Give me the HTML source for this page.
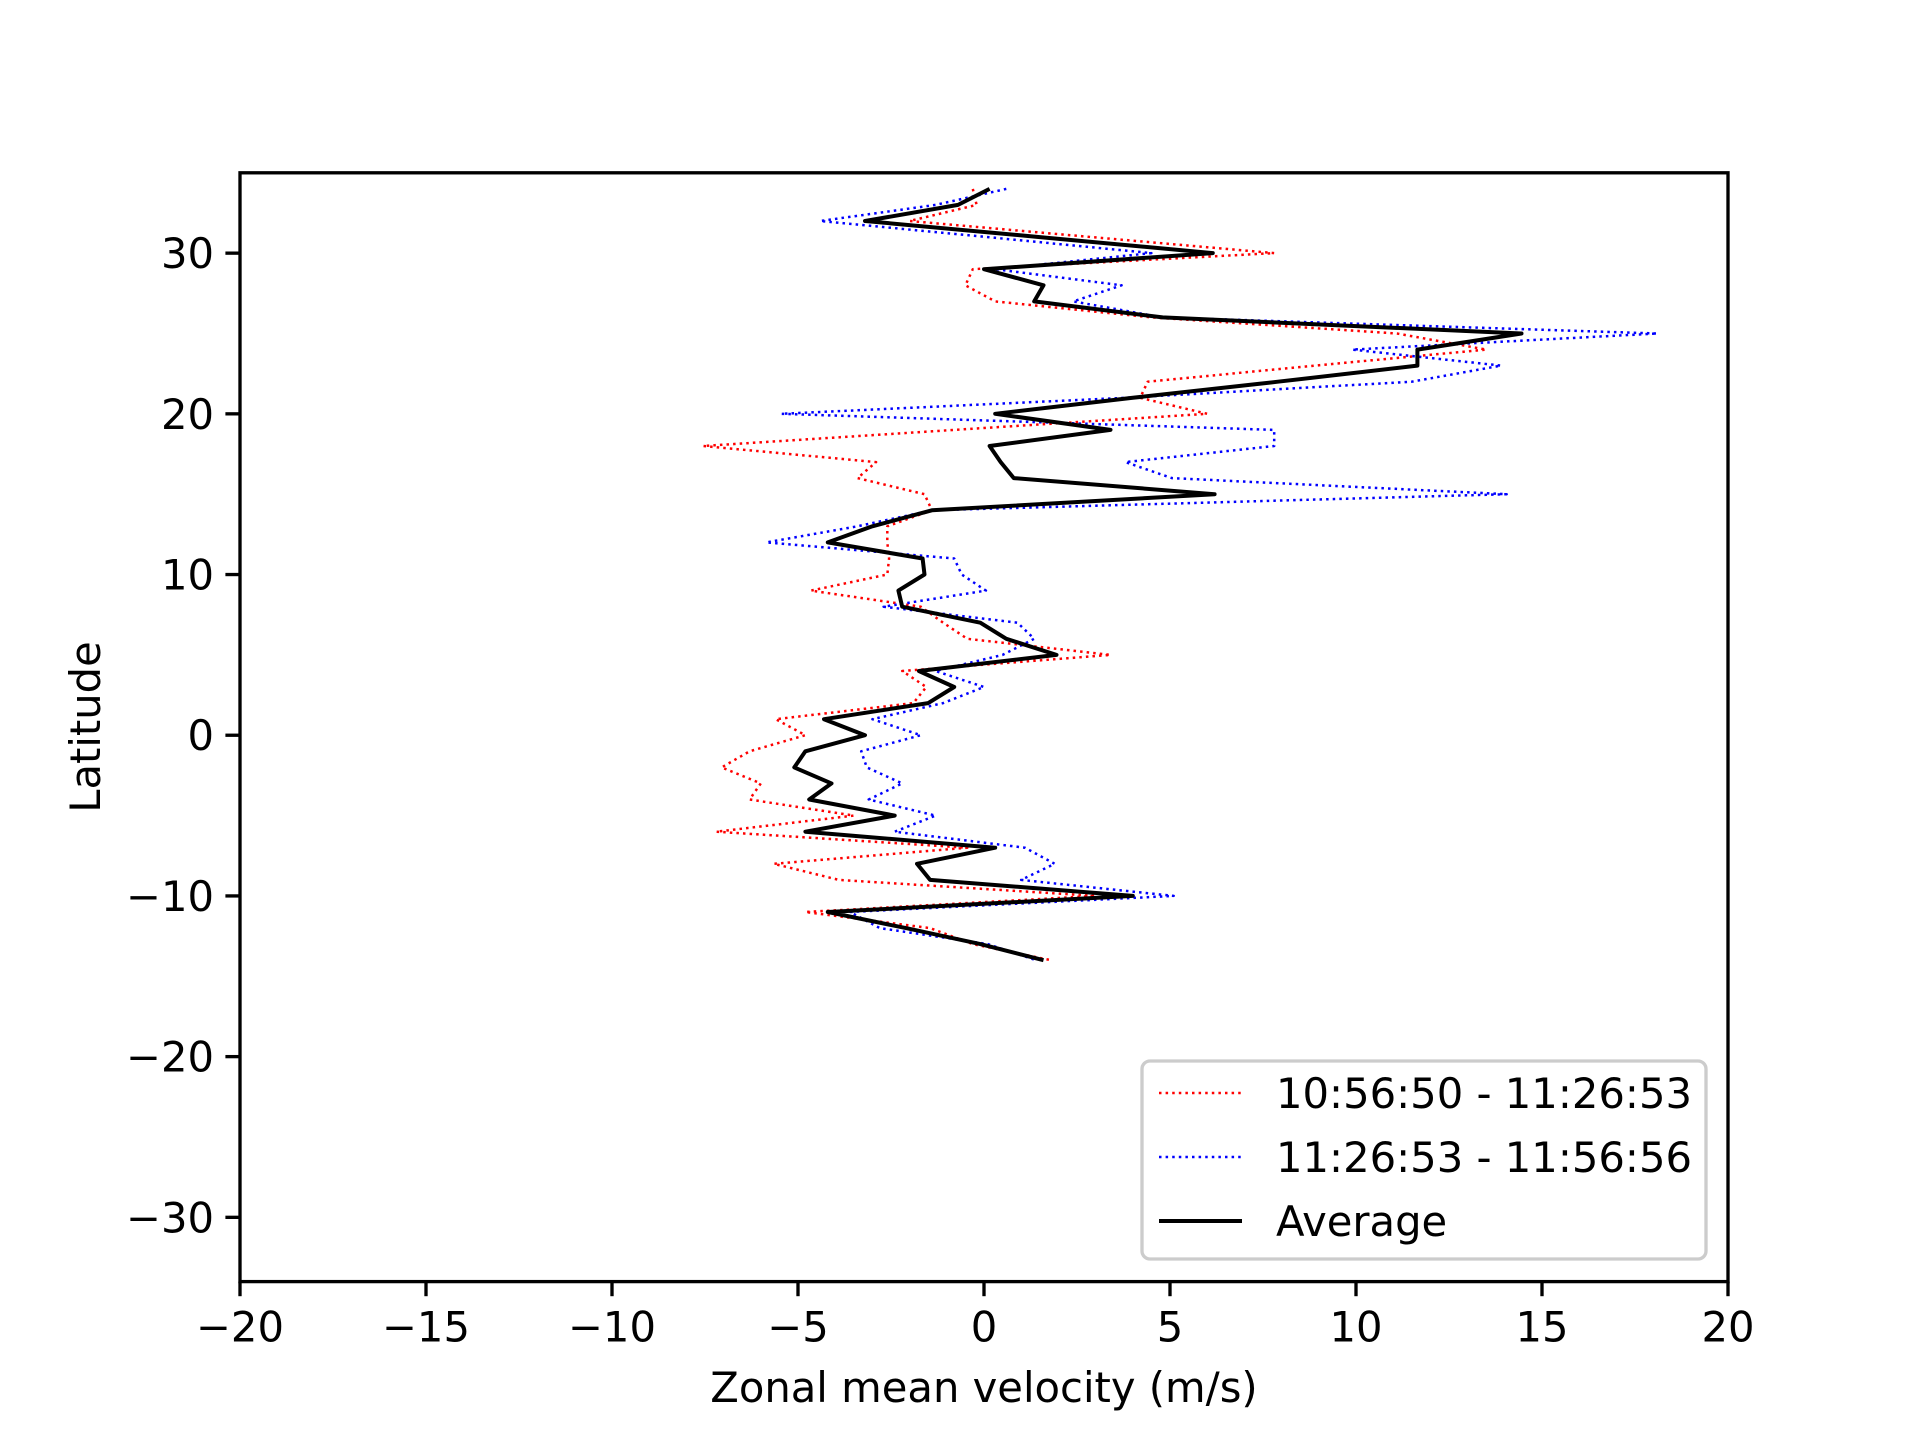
<!DOCTYPE html>
<html><head><meta charset="utf-8"><style>
html,body{margin:0;padding:0;background:#fff;}
svg{display:block;font-family:"DejaVu Sans","Liberation Sans",sans-serif;}
</style></head><body>
<svg id="chart" width="1920" height="1440" viewBox="0 0 1920 1440" xmlns="http://www.w3.org/2000/svg">
<rect width="1920" height="1440" fill="#fff"/>
<g id="plot"></g>
<g id="axes"></g>
<rect x="240" y="172.8" width="1488" height="1108.8" fill="none" stroke="#000" stroke-width="3.33"/>
<text x="984" y="1402" font-size="41.7" text-anchor="middle">Zonal mean velocity (m/s)</text>
<text x="0" y="0" font-size="41.7" text-anchor="middle" transform="translate(100,727) rotate(-90)">Latitude</text>
<g>
<rect x="1142" y="1061" width="564" height="198" rx="8" fill="#fff" fill-opacity="0.8" stroke="#ccc" stroke-width="3.33"/>
<g>
<line x1="1159" y1="1093" x2="1242" y2="1093" stroke="#ff0000" stroke-width="2.5" stroke-dasharray="2.5 4.1"/>
<text x="1276" y="1108" font-size="41.7">10:56:50 - 11:26:53</text></g>
<g>
<line x1="1159" y1="1157" x2="1242" y2="1157" stroke="#0000ff" stroke-width="2.5" stroke-dasharray="2.5 4.1"/>
<text x="1276" y="1172" font-size="41.7">11:26:53 - 11:56:56</text></g>
<g>
<line x1="1159" y1="1221" x2="1242" y2="1221" stroke="#000" stroke-width="4"/>
<text x="1276" y="1236" font-size="41.7">Average</text></g>
</g>
</svg>
<script>
const latitudes = [34,33,32,31,30,29,28,27,26,25,24,23,22,21,20,19,18,17,16,15,14,13,12,11,10,9,8,7,6,5,4,3,2,1,0,-1,-2,-3,-4,-5,-6,-7,-8,-9,-10,-11,-12,-13,-14];
const redValues = [-0.3,-0.2,-2.0,2.9,7.8,-0.3,-0.5,0.3,4.5,11.1,13.5,8.9,4.4,4.2,6.0,-0.8,-7.55,-2.9,-3.4,-1.6,-1.4,-2.6,-2.6,-2.55,-2.6,-4.65,-1.7,-1.1,-0.45,3.4,-2.2,-1.55,-1.9,-5.6,-4.8,-6.3,-7.05,-6.0,-6.3,-3.5,-7.2,-0.45,-5.65,-3.9,3.0,-4.8,-1.45,-0.3,1.8];
const blueValues = [0.6,-1.3,-4.4,0.1,4.5,0.3,3.7,2.4,4.8,18.1,9.9,13.9,11.5,3.8,-5.45,7.8,7.8,3.8,5.05,14.05,-1.4,-3.4,-5.85,-0.8,-0.6,0.05,-2.7,0.9,1.35,0.5,-1.3,0.0,-1.1,-3.0,-1.7,-3.3,-3.15,-2.2,-3.1,-1.3,-2.4,1.1,1.9,1.0,5.1,-3.6,-2.8,0.1,1.4];
const avgValues = [0.15,-0.7,-3.2,1.5,6.15,0.0,1.6,1.35,4.8,14.45,11.65,11.65,7.9,4.0,0.3,3.4,0.15,0.45,0.8,6.2,-1.4,-3.0,-4.2,-1.65,-1.6,-2.3,-2.2,-0.1,0.6,1.95,-1.75,-0.8,-1.5,-4.3,-3.2,-4.8,-5.1,-4.1,-4.7,-2.4,-4.8,0.3,-1.8,-1.45,4.0,-4.2,-2.1,-0.1,1.6];
const xTicks = [-20,-15,-10,-5,0,5,10,15,20];
const yTicks = [-30,-20,-10,0,10,20,30];

const L=240,T=172.8,W=1488,H=1108.8;
const xMin=-20,xMax=20,yMin=-34,yMax=35;
function xs(v){return L+(v-xMin)/(xMax-xMin)*W;}
function ys(v){return T+(yMax-v)/(yMax-yMin)*H;}
function lbl(v){return v<0?'\u2212'+Math.abs(v):String(v);}
const NS='http://www.w3.org/2000/svg';
const plot=document.getElementById('plot');
const axes=document.getElementById('axes');

function drawLine(vals,color,width,dash,name){
  const p=document.createElementNS(NS,'polyline');
  p.setAttribute('points',vals.map((v,i)=>xs(v).toFixed(1)+','+ys(latitudes[i]).toFixed(1)).join(' '));
  p.setAttribute('fill','none');
  p.setAttribute('stroke',color);
  p.setAttribute('stroke-width',width);
  p.setAttribute('stroke-linejoin','round');
  if(dash)p.setAttribute('stroke-dasharray',dash);
  
  
  plot.appendChild(p);
}
drawLine(redValues,'#ff0000',2.5,'2.5 4.1','series-red');
drawLine(blueValues,'#0000ff',2.5,'2.5 4.1','series-blue');
drawLine(avgValues,'#000',4,null,'series-average');

xTicks.forEach(v=>{
  const x=xs(v);
  const t=document.createElementNS(NS,'line');
  t.setAttribute('x1',x);t.setAttribute('x2',x);
  t.setAttribute('y1',T+H);t.setAttribute('y2',T+H+14.6);
  t.setAttribute('stroke','#000');t.setAttribute('stroke-width',3.33);
  
  
  axes.appendChild(t);
  const s=document.createElementNS(NS,'text');
  s.setAttribute('x',x);s.setAttribute('y',T+H+60);
  s.setAttribute('font-size','41.7');s.setAttribute('text-anchor','middle');
  s.textContent=lbl(v);
  
  
  axes.appendChild(s);
});
yTicks.forEach(v=>{
  const y=ys(v);
  const t=document.createElementNS(NS,'line');
  t.setAttribute('x1',L-14.6);t.setAttribute('x2',L);
  t.setAttribute('y1',y);t.setAttribute('y2',y);
  t.setAttribute('stroke','#000');t.setAttribute('stroke-width',3.33);
  
  
  axes.appendChild(t);
  const s=document.createElementNS(NS,'text');
  s.setAttribute('x',L-26);s.setAttribute('y',y+15);
  s.setAttribute('font-size','41.7');s.setAttribute('text-anchor','end');
  s.textContent=lbl(v);
  
  
  axes.appendChild(s);
});
</script>
</body></html>
